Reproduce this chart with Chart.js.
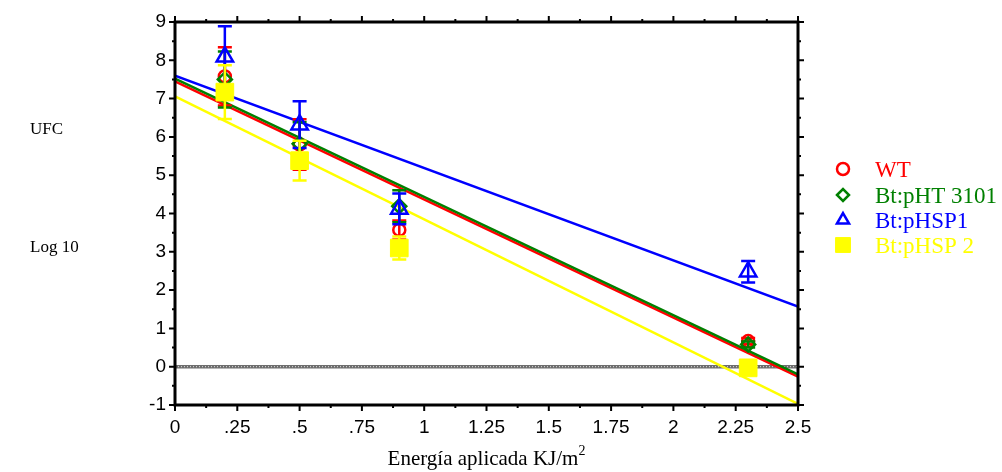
<!DOCTYPE html>
<html><head><meta charset="utf-8">
<script src="https://cdn.jsdelivr.net/npm/chart.js@4"></script>
<style>html,body{margin:0;padding:0;background:#fff}#wrap{width:1002px;height:472px;position:relative}</style>
</head><body><div id="wrap"><canvas id="c" width="1002" height="472"></canvas></div>
<script>
// ---- data ----
const energy = [0.2, 0.5, 0.9, 2.3];
const seriesNames = ['WT', 'Bt:pHT 3101', 'Bt:pHSP1', 'Bt:pHSP 2'];
const wtValues = [7.58, 5.80, 3.57, 0.67];
const wtErrors = [0.76, 0.66, 0.25, 0.08];
const pht3101Values = [7.50, 5.82, 4.19, 0.58];
const pht3101Errors = [0.73, 0.56, 0.42, 0.08];
const phsp1Values = [8.09, 6.32, 4.12, 2.48];
const phsp1Errors = [0.80, 0.61, 0.40, 0.28];
const phsp2Values = [7.17, 5.38, 3.10, -0.03];
const phsp2Errors = [0.70, 0.52, 0.30, 0.05];
const fitRange = [0, 2.5];
const wtFit = [7.45, -0.26];
const pht3101Fit = [7.52, -0.20];
const phsp1Fit = [7.60, 1.57];
const phsp2Fit = [7.06, -0.97];
const zeroLine = [0, 0];
const xTickLabels = ['0', '.25', '.5', '.75', '1', '1.25', '1.5', '1.75', '2', '2.25', '2.5'];
const yTickLabels = ['-1', '0', '1', '2', '3', '4', '5', '6', '7', '8', '9'];
const xTitle = 'Energía aplicada KJ/m';
const xTitleSup = '2';
const yTitleTop = 'UFC';
const yTitleBottom = 'Log 10';

const colors = ['#ff0000', '#008000', '#0000ff', '#ffff00'];
const styles = ['circle', 'rectRot', 'triangle', 'rect'];
const radii = [6, 7, 9.5, 12.5];
const legendRadii = [6, 6, 7, 10.5];

const toPts = (xs, ys) => xs.map((x, i) => ({x, y: ys[i]}));
const values = [wtValues, pht3101Values, phsp1Values, phsp2Values];
const errors = [wtErrors, pht3101Errors, phsp1Errors, phsp2Errors];
const fits = [wtFit, pht3101Fit, phsp1Fit, phsp2Fit];

const datasets = [];
values.forEach((v, i) => {
  datasets.push({
    label: seriesNames[i], data: toPts(energy, v), errors: errors[i],
    pointStyle: styles[i], pointRadius: radii[i], pointHoverRadius: radii[i],
    borderColor: colors[i], pointBorderColor: colors[i],
    pointBackgroundColor: i === 3 ? colors[i] : 'rgba(0,0,0,0)',
    pointBorderWidth: i === 3 ? 1 : 2.5, showLine: false, order: 4 - i
  });
});
fits.forEach((f, i) => {
  datasets.push({
    label: seriesNames[i] + ' fit', data: toPts(fitRange, f), showLine: true,
    borderColor: colors[i], borderWidth: 2.5, pointRadius: 0, order: 10 - i
  });
});
datasets.push({label: 'zero', data: toPts(fitRange, zeroLine), showLine: true, borderColor: '#6e6e6e', borderWidth: 3.5, pointRadius: 0, order: 21});
datasets.push({label: 'zero2', data: toPts(fitRange, zeroLine), showLine: true, borderColor: '#e0e0e0', borderWidth: 1, borderDash: [1, 2], pointRadius: 0, order: 20});

const errorBarPlugin = {
  id: 'errorBars',
  beforeDatasetDraw(chart, args) {
    const ds = chart.data.datasets[args.index];
    if (!ds.errors) return;
    const {ctx} = chart; const x = chart.scales.x, y = chart.scales.y;
    ctx.save();
    ctx.strokeStyle = ds.borderColor; ctx.lineWidth = 2.5;
    ds.data.forEach((p, i) => {
      const px = x.getPixelForValue(p.x);
      const t = y.getPixelForValue(p.y + ds.errors[i]);
      const b = y.getPixelForValue(p.y - ds.errors[i]);
      ctx.beginPath();
      ctx.moveTo(px, t); ctx.lineTo(px, b);
      ctx.moveTo(px - 7, t); ctx.lineTo(px + 7, t);
      ctx.moveTo(px - 7, b); ctx.lineTo(px + 7, b);
      ctx.stroke();
    });
    ctx.restore();
  }
};

const framePlugin = {
  id: 'frame',
  afterDatasetsDraw(chart) {
    const {ctx, chartArea: a} = chart; const x = chart.scales.x, y = chart.scales.y;
    ctx.save();
    ctx.strokeStyle = '#000'; ctx.lineWidth = 3;
    ctx.strokeRect(a.left, a.top, a.right - a.left, a.bottom - a.top);
    ctx.lineWidth = 2;
    ctx.beginPath();
    for (let k = 0; k <= 20; k++) {
      const px = x.getPixelForValue(k * 0.125);
      const L = k % 2 === 0 ? 6 : 3;
      ctx.moveTo(px, a.bottom); ctx.lineTo(px, a.bottom + L);
      ctx.moveTo(px, a.top); ctx.lineTo(px, a.top - L);
    }
    for (let k = 0; k <= 20; k++) {
      const py = y.getPixelForValue(-1 + k * 0.5);
      const L = k % 2 === 0 ? 6 : 3;
      ctx.moveTo(a.left, py); ctx.lineTo(a.left - L, py);
      ctx.moveTo(a.right, py); ctx.lineTo(a.right + L, py);
    }
    ctx.stroke();
    ctx.restore();
  },
  afterDraw(chart) {
    const {ctx} = chart;
    ctx.save();
    ctx.fillStyle = '#000';
    ctx.textBaseline = 'alphabetic';
    ctx.textAlign = 'left';
    ctx.font = "17px 'Liberation Serif'";
    ctx.fillText(yTitleTop, 30, 134);
    ctx.fillText(yTitleBottom, 30, 252);
    // x title
    ctx.font = "21px 'Liberation Serif'";
    const w1 = ctx.measureText(xTitle).width;
    ctx.font = "14px 'Liberation Serif'";
    const w2 = ctx.measureText(xTitleSup).width;
    const a = chart.chartArea;
    const start = (a.left + a.right) / 2 - (w1 + w2) / 2;
    ctx.font = "21px 'Liberation Serif'";
    ctx.fillText(xTitle, start, 465);
    ctx.font = "14px 'Liberation Serif'";
    ctx.fillText(xTitleSup, start + w1, 455);
    // legend
    const rowY = [170, 196, 221, 246];
    seriesNames.forEach((n, i) => {
      ctx.strokeStyle = colors[i];
      ctx.fillStyle = i === 3 ? colors[i] : 'rgba(0,0,0,0)';
      ctx.lineWidth = i === 3 ? 1 : 2.5;
      Chart.helpers.drawPoint(ctx, {pointStyle: styles[i], radius: legendRadii[i], rotation: 0, borderWidth: ctx.lineWidth}, 843, rowY[i] - 1);
      ctx.fillStyle = colors[i];
      ctx.font = "23px 'Liberation Serif'";
      ctx.fillText(n, 875, rowY[i] + 7);
    });
    ctx.restore();
  }
};

new Chart(document.getElementById('c'), {
  type: 'scatter',
  data: {datasets},
  plugins: [errorBarPlugin, framePlugin],
  options: {
    responsive: false, animation: false, devicePixelRatio: 1,
    layout: {padding: {left: 0, right: 204, top: 22, bottom: 0}},
    plugins: {legend: {display: false}, tooltip: {enabled: false}},
    scales: {
      x: {
        type: 'linear', min: 0, max: 2.5,
        afterFit: s => { s.height = 67; },
        grid: {display: false, drawTicks: false}, border: {display: false},
        ticks: {stepSize: 0.25, autoSkip: false, maxRotation: 0, padding: 11, color: '#000',
          font: {family: "'Liberation Sans', Arial, sans-serif", size: 19},
          callback: (v, i) => xTickLabels[i]}
      },
      y: {
        type: 'linear', min: -1, max: 9,
        afterFit: s => { s.width = 175; },
        grid: {display: false, drawTicks: false}, border: {display: false},
        ticks: {stepSize: 1, autoSkip: false, padding: 9, color: '#000',
          font: {family: "'Liberation Sans', Arial, sans-serif", size: 19},
          callback: (v, i) => yTickLabels[i]}
      }
    }
  }
});
</script></body></html>
